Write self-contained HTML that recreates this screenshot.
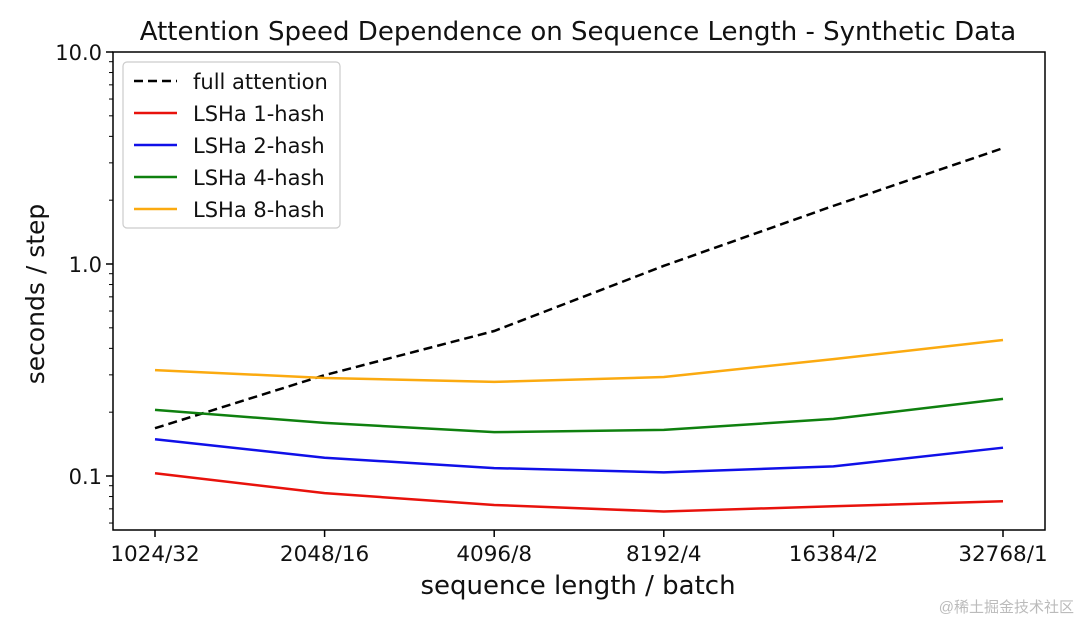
<!DOCTYPE html>
<html><head><meta charset="utf-8"><style>
body{margin:0;background:#fff;width:1080px;height:620px;overflow:hidden;font-family:"DejaVu Sans","Liberation Sans",sans-serif}
svg text{font-family:"DejaVu Sans","Liberation Sans",sans-serif;fill:#111}
</style></head><body>
<svg id="chart" width="1080" height="620"></svg>
<script>
const categories=["1024/32","2048/16","4096/8","8192/4","16384/2","32768/1"];
const fullAttention=[0.168,0.299,0.483,0.98,1.88,3.52];
const lsh1=[0.103,0.083,0.073,0.068,0.072,0.076];
const lsh2=[0.149,0.122,0.109,0.104,0.111,0.136];
const lsh4=[0.205,0.178,0.161,0.165,0.186,0.231];
const lsh8=[0.316,0.290,0.278,0.293,0.356,0.438];
const yTicks=[0.1,1,10];
const yTickLabels=["0.1","1.0","10.0"];
const seriesNames=["full attention","LSHa 1-hash","LSHa 2-hash","LSHa 4-hash","LSHa 8-hash"];

const NS="http://www.w3.org/2000/svg";
const svg=document.getElementById('chart');
const L=113,R=1045,T=52,B=530;
const x0=155,x1=1003;
function xs(i){return x0+(x1-x0)*i/(categories.length-1);}
function ys(v){return 264-212*Math.log10(v);}
function mk(tag,attrs,parent){const e=document.createElementNS(NS,tag);for(const k in attrs)e.setAttribute(k,attrs[k]);(parent||svg).appendChild(e);return e;}

const title=mk('text',{x:578,y:40,'text-anchor':'middle','font-size':26});
title.textContent="Attention Speed Dependence on Sequence Length - Synthetic Data";



const frame=mk('rect',{x:L,y:T,width:R-L,height:B-T,fill:'none',stroke:'#000','stroke-width':1.5});



yTicks.forEach((v,i)=>{
  const y=ys(v);
  const t=mk('line',{x1:L-7,x2:L,y1:y,y2:y,stroke:'#000','stroke-width':1.5});
  
  
  const lb=mk('text',{x:L-11,y:y+8,'text-anchor':'end','font-size':21});
  lb.textContent=yTickLabels[i];
  
  
});
[0.06,0.07,0.08,0.09,0.2,0.3,0.4,0.5,0.6,0.7,0.8,0.9,2,3,4,5,6,7,8,9].forEach(v=>{
  const y=ys(v);
  const t=mk('line',{x1:L-4,x2:L,y1:y,y2:y,stroke:'#000','stroke-width':1});
  
  
});
categories.forEach((c,i)=>{
  const x=xs(i);
  const t=mk('line',{x1:x,x2:x,y1:B,y2:B+7,stroke:'#000','stroke-width':1.5});
  
  
  const lb=mk('text',{x:x,y:B+31,'text-anchor':'middle','font-size':21.5});
  lb.textContent=c;
  
  
});
const xt=mk('text',{x:578,y:594,'text-anchor':'middle','font-size':26});
xt.textContent="sequence length / batch";


const yt=mk('text',{x:0,y:0,'text-anchor':'middle','font-size':25,transform:'translate(44,294) rotate(-90)'});
yt.textContent="seconds / step";



const series=[fullAttention,lsh1,lsh2,lsh4,lsh8];
const colors=['#000','#e8120c','#1010e8','#0f800f','#fbaa10'];
const names=['line-full-attention','line-lsh-1','line-lsh-2','line-lsh-4','line-lsh-8'];
series.forEach((s,k)=>{
  const d=s.map((v,i)=>(i?'L':'M')+xs(i)+','+ys(v)).join(' ');
  const p=mk('path',{d:d,fill:'none',stroke:colors[k],'stroke-width':2.5});
  if(k===0)p.setAttribute('stroke-dasharray','9,5');
  
  
});

const lg=mk('g',{});


mk('rect',{x:123,y:62,width:217,height:166,rx:4,fill:'#fff',stroke:'#ccc','stroke-width':1.2},lg);
seriesNames.forEach((n,k)=>{
  const y=81+k*32;
  const ln=mk('line',{x1:134,x2:177,y1:y,y2:y,stroke:colors[k],'stroke-width':2.5},lg);
  if(k===0)ln.setAttribute('stroke-dasharray','9,5');
  const t=mk('text',{x:193,y:y+8,'font-size':21},lg);
  t.textContent=n;
  
  
});

const wm=mk('text',{x:1074,y:612,'text-anchor':'end','font-size':15,style:'fill:#bbb;font-family:"Liberation Sans","Noto Sans CJK SC",sans-serif'});
wm.textContent="@稀土掘金技术社区";


</script>
</body></html>
